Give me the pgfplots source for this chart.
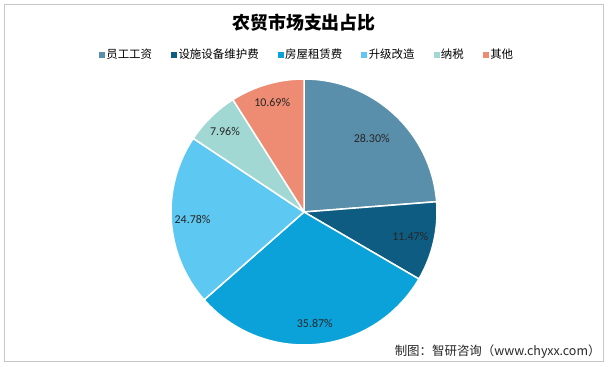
\documentclass[border=0pt]{standalone}
\usepackage{pgfplots}
\usepackage{pgfplotstable}
\pgfplotsset{compat=1.18}
\usepackage{fontspec}
\setmainfont{Noto Sans CJK SC}
\newfontfamily\numfont{Carlito}
\definecolor{c0}{HTML}{5A8FAB}
\definecolor{c1}{HTML}{0E5C82}
\definecolor{c2}{HTML}{0AA2D9}
\definecolor{c3}{HTML}{5DC8F1}
\definecolor{c4}{HTML}{A2D8D4}
\definecolor{c5}{HTML}{EE8B73}
\pgfplotstableread{
value ld
28.30 0.75
11.47 0.82
35.87 0.84
24.78 0.84
7.96 0.85
10.69 0.86
}\piedata
\begin{document}
\begin{tikzpicture}[x=1bp,y=1bp]
\path[use as bounding box, fill=white] (0,0) rectangle (608,366);
\draw[color=black!22, line width=1.5bp] (4.5,4.5) rectangle (603.5,361.5);
\def\total{0}
\pgfplotsforeachungrouped \i in {0,...,5}{%
  \pgfplotstablegetelem{\i}{value}\of\piedata
  \pgfmathsetmacro\total{\total+\pgfplotsretval}%
}
\begin{axis}[
  at={(0,0)}, anchor=south west,
  x=133bp, y=133bp,
  xmin=-2.2857, xmax=2.2857,
  ymin=-1.1579, ymax=1.5940,
  hide axis, clip=false,
  legend columns=6,
  legend style={at={(axis description cs:0.505,0.85)}, anchor=center, draw=none, fill=none,
    font=\fontsize{11.5}{13}\selectfont, inner sep=0pt,
    /tikz/every even column/.append style={column sep=17bp}},
  legend image code/.code={\fill[#1] (0bp,-2.5bp) rectangle (5bp,2.5bp);},
]
\addlegendimage{c0}\addlegendentry{员工工资}
\addlegendimage{c1}\addlegendentry{设施设备维护费}
\addlegendimage{c2}\addlegendentry{房屋租赁费}
\addlegendimage{c3}\addlegendentry{升级改造}
\addlegendimage{c4}\addlegendentry{纳税}
\addlegendimage{c5}\addlegendentry{其他}
\def\startang{90}
\pgfplotsforeachungrouped \i in {0,...,5}{%
  \pgfplotstablegetelem{\i}{value}\of\piedata \let\v\pgfplotsretval
  \pgfplotstablegetelem{\i}{ld}\of\piedata \let\ld\pgfplotsretval
  \pgfmathsetmacro\endang{\startang-360*\v/\total}%
  \pgfmathsetmacro\midang{(\startang+\endang)/2}%
  \pgfmathsetmacro\lx{\ld*cos(\midang)}%
  \pgfmathsetmacro\ly{\ld*sin(\midang)}%
  \pgfmathsetmacro\sx{cos(\startang)}%
  \pgfmathsetmacro\sy{sin(\startang)}%
  \edef\temp{%
    \noexpand\filldraw[fill=c\i, draw=white, line width=1.5bp, line join=round]
      (axis cs:0,0) -- (axis cs:\sx,\sy) arc[start angle=\startang, end angle=\endang, radius=133bp] -- cycle;
    \noexpand\node[font=\noexpand\numfont\noexpand\fontsize{12}{14}\noexpand\selectfont, text=black!85]
      at (axis cs:\lx,\ly) {\v\noexpand\%};
  }\temp
  \let\startang\endang
}
\end{axis}
\node[font=\fontsize{18}{20}\selectfont\bfseries] at (304,343) {农贸市场支出占比};
\node[anchor=east, font=\fontsize{12.5}{14}\selectfont, text=black!85] at (604,14) {制图：智研咨询（www.chyxx.com）};
\end{tikzpicture}
\end{document}
